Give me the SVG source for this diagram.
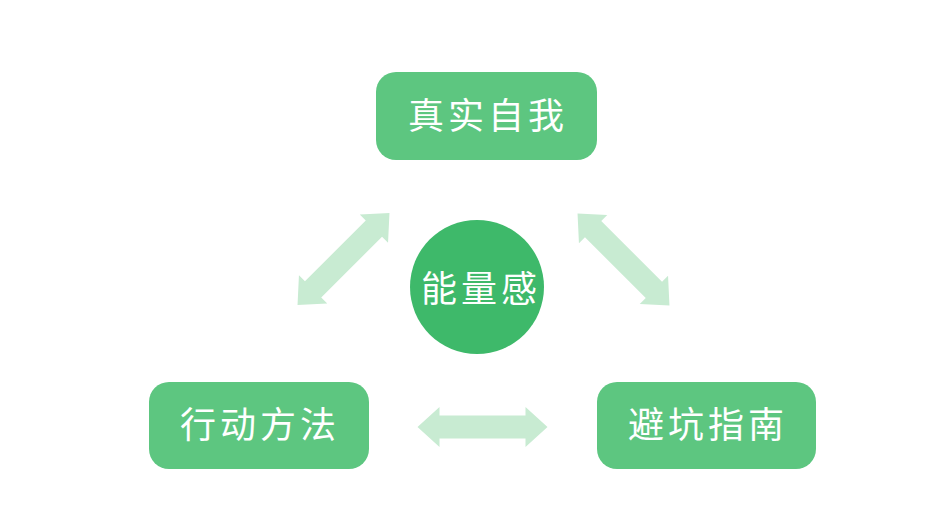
<svg xmlns="http://www.w3.org/2000/svg" xmlns:xlink="http://www.w3.org/1999/xlink" width="928" height="531" viewBox="0 0 928 531">
<style>
.box{fill:#5DC680}
.hub{fill:#3EB96A}
.arrow{fill:#C8EBD2}
.lbl{font-family:"Noto Sans CJK SC","Noto Sans",sans-serif;font-size:36px;fill:#FFFFFF;text-anchor:middle;dominant-baseline:central;letter-spacing:4px}
</style>
<defs>
<path id="dbl" d="M-65,0 L-43,-20 L-43,-11.5 L43,-11.5 L43,-20 L65,0 L43,20 L43,11.5 L-43,11.5 L-43,20 Z"/>
</defs>
<rect width="928" height="531" fill="#FFFFFF"/>
<g id="connectors" class="arrow">
<use xlink:href="#dbl" transform="translate(343.5,259) rotate(-45)"/>
<use xlink:href="#dbl" transform="translate(623.5,259.5) rotate(45)"/>
<use xlink:href="#dbl" transform="translate(482.5,427)"/>
</g>
<g id="node-top">
<rect class="box" x="376" y="72" width="221" height="88" rx="20"/>
<text class="lbl" x="488" y="113">真实自我</text>
</g>
<g id="node-left">
<rect class="box" x="149" y="382" width="220" height="87" rx="20"/>
<text class="lbl" x="260" y="422">行动方法</text>
</g>
<g id="node-right">
<rect class="box" x="597" y="382" width="219" height="87" rx="20"/>
<text class="lbl" x="708" y="422">避坑指南</text>
</g>
<g id="node-center">
<circle class="hub" cx="477" cy="287" r="67"/>
<text class="lbl" x="481" y="286">能量感</text>
</g>
</svg>
